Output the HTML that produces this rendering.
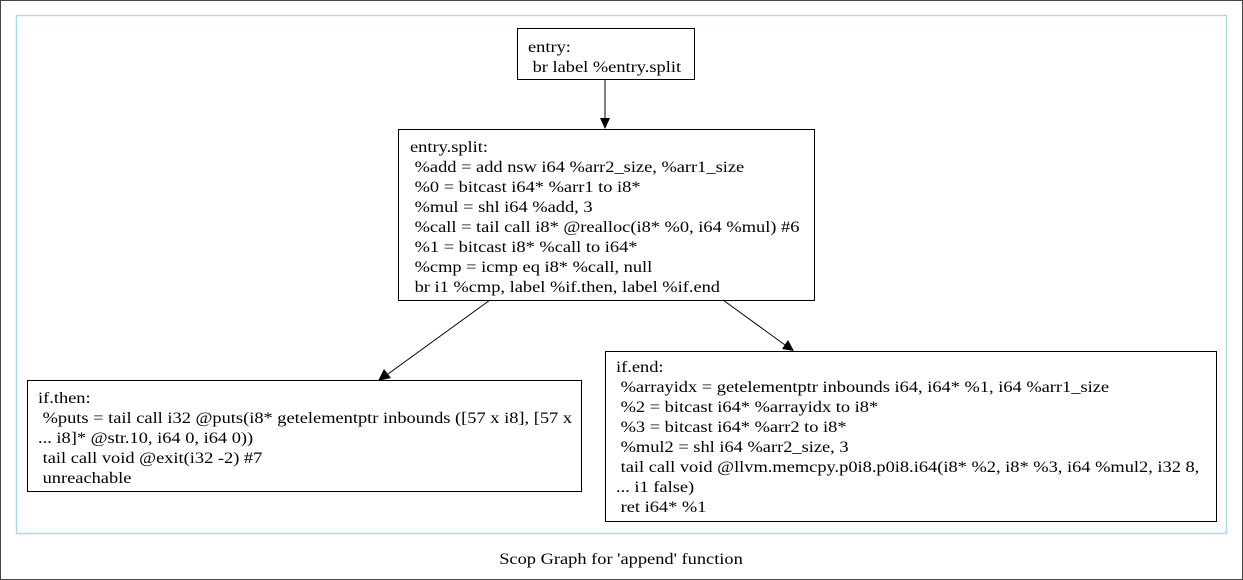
<!DOCTYPE html>
<html><head><style>
html,body{margin:0;padding:0;background:#fff}
svg{display:block}
text{font-family:"Liberation Serif",serif;font-size:16px;fill:#000;white-space:pre}
</style></head><body>
<svg width="1243" height="580" xmlns="http://www.w3.org/2000/svg">
<rect x="0.5" y="0.5" width="1242" height="579" fill="#fff" stroke="#444" stroke-width="1"/>
<rect x="16.5" y="15.5" width="1210" height="518" fill="none" stroke="#add8e6" stroke-width="1.5"/>
<g fill="none" stroke="#000" stroke-width="1">
<rect x="517.5" y="28.5" width="177" height="51"/>
<rect x="398.5" y="129.5" width="416" height="171"/>
<rect x="27.5" y="380.5" width="554" height="111"/>
<rect x="605.5" y="351.5" width="611" height="170"/>
<line x1="605" y1="79" x2="605" y2="119"/>
<line x1="490" y1="300" x2="388" y2="374"/>
<line x1="723" y1="300" x2="785" y2="345"/>
</g>
<g fill="#000">
<polygon points="600,118 610,118 605,129"/>
<polygon points="384,369 391,378 378,381"/>
<polygon points="782,349 788,340 794,351"/>
</g>
<g transform="translate(528,0) scale(1.15,1)">
<text x="0" y="52">entry:</text>
<text x="0" y="72"> br label %entry.split</text>
</g>
<g transform="translate(410,0) scale(1.15,1)">
<text x="0" y="152">entry.split:</text>
<text x="0" y="172"> %add = add nsw i64 %arr2_size, %arr1_size</text>
<text x="0" y="192"> %0 = bitcast i64* %arr1 to i8*</text>
<text x="0" y="212"> %mul = shl i64 %add, 3</text>
<text x="0" y="232"> %call = tail call i8* @realloc(i8* %0, i64 %mul) #6</text>
<text x="0" y="252"> %1 = bitcast i8* %call to i64*</text>
<text x="0" y="272"> %cmp = icmp eq i8* %call, null</text>
<text x="0" y="292"> br i1 %cmp, label %if.then, label %if.end</text>
</g>
<g transform="translate(38,0) scale(1.15,1)">
<text x="0" y="403">if.then:</text>
<text x="0" y="423"> %puts = tail call i32 @puts(i8* getelementptr inbounds ([57 x i8], [57 x</text>
<text x="0" y="443">... i8]* @str.10, i64 0, i64 0))</text>
<text x="0" y="463"> tail call void @exit(i32 -2) #7</text>
<text x="0" y="483"> unreachable</text>
</g>
<g transform="translate(616,0) scale(1.15,1)">
<text x="0" y="372">if.end:</text>
<text x="0" y="392"> %arrayidx = getelementptr inbounds i64, i64* %1, i64 %arr1_size</text>
<text x="0" y="412"> %2 = bitcast i64* %arrayidx to i8*</text>
<text x="0" y="432"> %3 = bitcast i64* %arr2 to i8*</text>
<text x="0" y="452"> %mul2 = shl i64 %arr2_size, 3</text>
<text x="0" y="472"> tail call void @llvm.memcpy.p0i8.p0i8.i64(i8* %2, i8* %3, i64 %mul2, i32 8,</text>
<text x="0" y="492">... i1 false)</text>
<text x="0" y="512"> ret i64* %1</text>
</g>
<g transform="translate(621,0) scale(1.15,1)">
<text x="0" y="564" text-anchor="middle">Scop Graph for 'append' function</text>
</g>
</svg>
</body></html>
